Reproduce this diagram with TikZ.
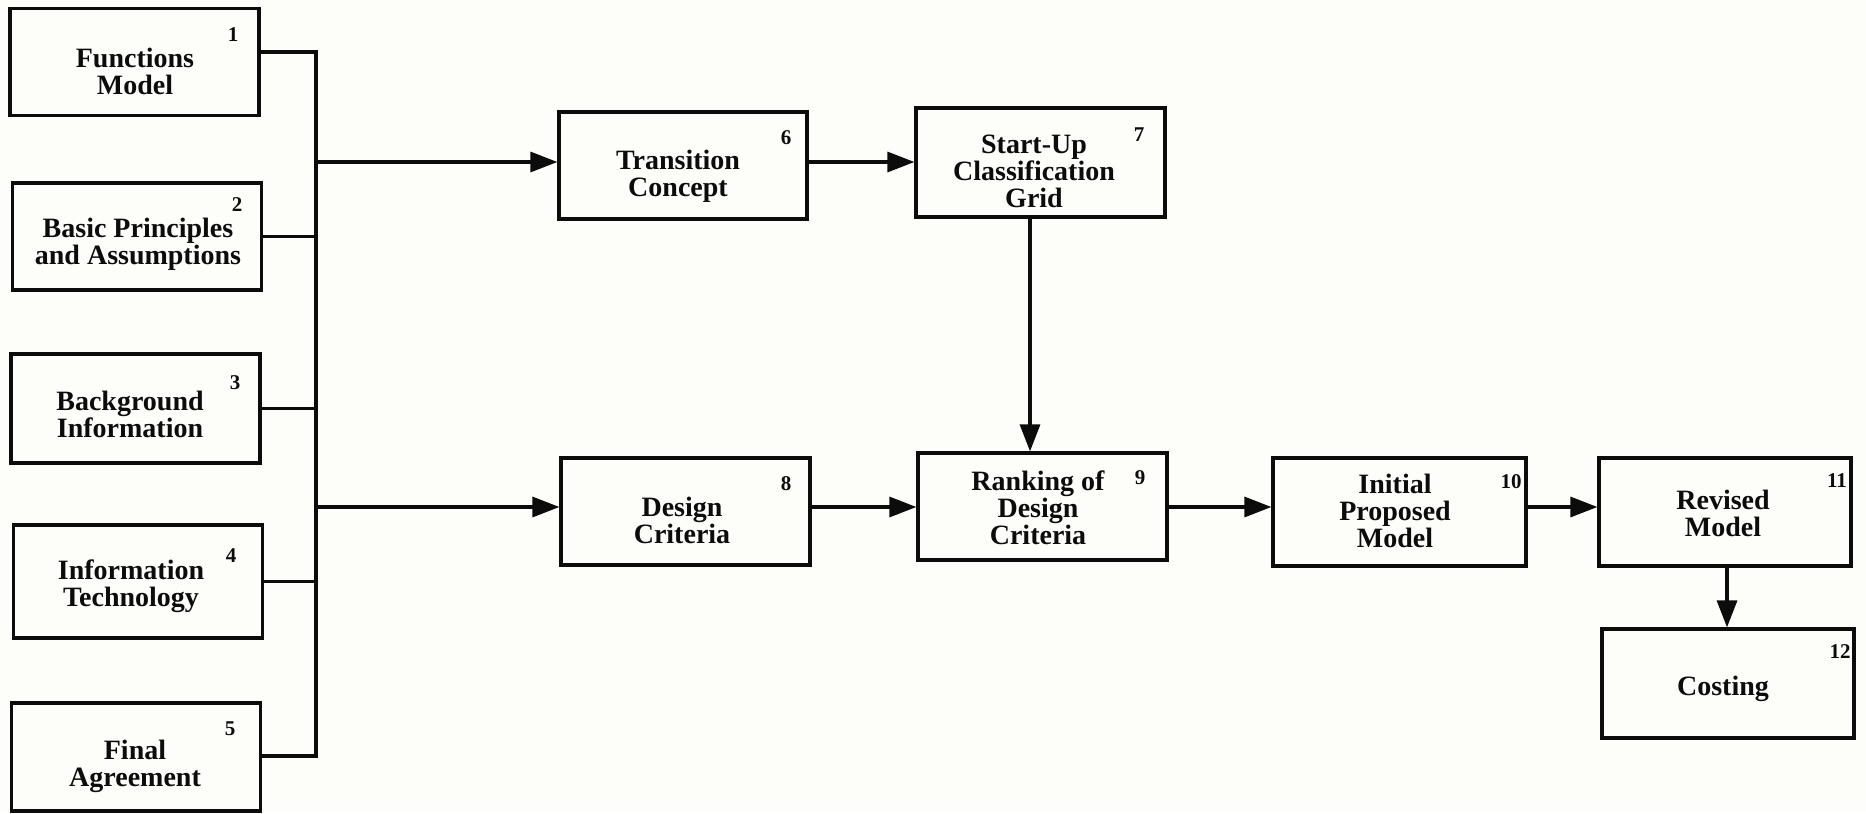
\documentclass[tikz,border=0pt]{standalone}
\usepackage{fontspec}
\setmainfont{Liberation Serif}
\usetikzlibrary{arrows.meta}

\definecolor{paper}{RGB}{253,253,250}
\definecolor{ink}{RGB}{12,12,12}

% invisible rule fixing the height of the first text line
\newcommand\firstline{\rule[-3pt]{0pt}{12.8pt}}

\tikzset{
  blk/.style={draw=ink, line width=1.6pt, rectangle, inner sep=0pt,
              minimum width=124.5pt, minimum height=53.5pt},
  lbl/.style={inner sep=0pt, anchor=north, align=center, text=ink,
              font=\fontsize{14}{13.5}\selectfont\bfseries},
  num/.style={inner sep=0pt, text=ink,
              font=\fontsize{10.5}{12}\selectfont\bfseries},
  conn/.style={draw=ink, line width=1.6pt},
  arr/.style={conn, -{Triangle[length=13.5pt, width=10pt]}},
}

% text block whose first baseline sits at the given y
\newcommand\blocktext[4]{\node[lbl] (#1) at (#2,{#3-19.6}) {\firstline #4};}

\begin{document}
\begin{tikzpicture}[x=0.5pt, y=-0.5pt]
  \fill[paper] (0,0) rectangle (1866,813);
  \useasboundingbox (0,0) rectangle (1866,813);

  % input boxes
  \node[blk] (b1) at (134.5,62) {};
  \node[blk] (b2) at (137,236.5) {};
  \node[blk, minimum height=54.5pt] (b3) at (135.5,408.5) {};
  \node[blk, minimum height=56.5pt] (b4) at (138,581.5) {};
  \node[blk, minimum height=54pt] (b5) at (136,757) {};

  % process boxes
  \node[blk, minimum width=124pt] (b6) at (683,165.5) {};
  \node[blk, minimum height=54.5pt] (b7) at (1040.5,162.5) {};
  \node[blk] (b8) at (685.5,511.5) {};
  \node[blk] (b9) at (1042.5,506.5) {};
  \node[blk, minimum width=126.5pt, minimum height=54pt] (b10) at (1399.5,512) {};
  \node[blk, minimum width=126pt, minimum height=54pt] (b11) at (1725,512) {};
  \node[blk, minimum width=126pt, minimum height=54.5pt] (b12) at (1728,683.5) {};

  % box texts
  \blocktext{t1}{135}{67}{Functions\\Model}
  \blocktext{t2}{138}{237}{Basic Principles\\and Assumptions}
  \blocktext{t3}{130}{410}{Background\\Information}
  \blocktext{t4}{131}{579}{Information\\Technology}
  \blocktext{t5}{135}{759}{Final\\Agreement}
  \blocktext{t6}{678}{169}{Transition\\Concept}
  \blocktext{t7}{1034}{153}{Start-Up\\Classification\\Grid}
  \blocktext{t8}{682}{516}{Design\\Criteria}
  \blocktext{t9}{1038}{490}{Ranking of\\Design\\Criteria}
  \blocktext{t10}{1395}{493}{Initial\\Proposed\\Model}
  \blocktext{t11}{1723}{509}{Revised\\Model}
  \blocktext{t12}{1723}{695}{Costing}

  % box numbers
  \node[num] (n1) at (233,35) {1};
  \node[num] (n2) at (237,205) {2};
  \node[num] (n3) at (235,383) {3};
  \node[num] (n4) at (231,556) {4};
  \node[num] (n5) at (230,729) {5};
  \node[num] (n6) at (786,138) {6};
  \node[num] (n7) at (1139,135) {7};
  \node[num] (n8) at (786,484) {8};
  \node[num] (n9) at (1140,478) {9};
  \node[num] (n10) at (1511,482) {10};
  \node[num] (n11) at (1837,481) {11};
  \node[num] (n12) at (1840,652) {12};

  % collecting bus and the rows of arrows
  \coordinate (j1) at (316,52);
  \coordinate (j5) at (316,756);
  \coordinate (rowA) at (0,162);
  \coordinate (rowB) at (0,507);
  \coordinate (colA) at (1030,0);
  \coordinate (colB) at (1727,0);

  \draw[conn] (b1.east |- j1) -- (j1) -- (j5) -- (b5.east |- j5);
  \draw[conn] (b2.east) -- (b2.east -| j1);
  \draw[conn] (b3.east) -- (b3.east -| j1);
  \draw[conn] (b4.east) -- (b4.east -| j1);

  \draw[arr] (j1 |- rowA) -- (b6.west |- rowA);
  \draw[arr] (b6.east |- rowA) -- (b7.west |- rowA);
  \draw[arr] (j1 |- rowB) -- (b8.west |- rowB);
  \draw[arr] (b8.east |- rowB) -- (b9.west |- rowB);
  \draw[arr] (b9.east |- rowB) -- (b10.west |- rowB);
  \draw[arr] (b10.east |- rowB) -- (b11.west |- rowB);
  \draw[arr] (b7.south -| colA) -- (b9.north -| colA);
  \draw[arr] (b11.south -| colB) -- (b12.north -| colB);
\end{tikzpicture}
\end{document}
